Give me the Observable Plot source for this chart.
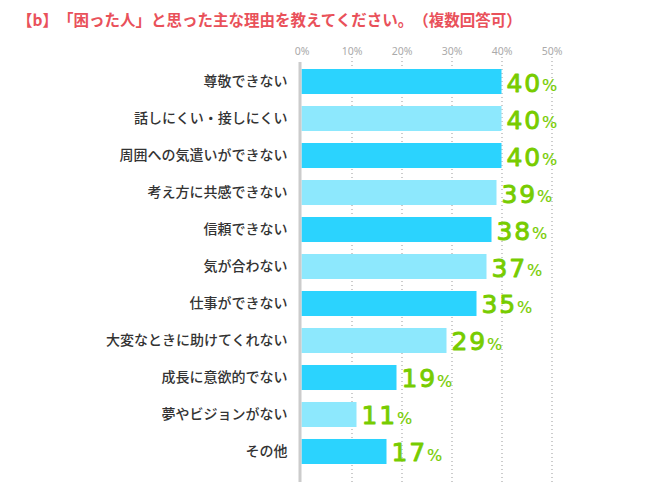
<!DOCTYPE html>
<html>
<head>
<meta charset="utf-8">
<script src="https://cdn.jsdelivr.net/npm/d3@7"></script>
<script src="https://cdn.jsdelivr.net/npm/@observablehq/plot@0.6"></script>
<style>
  html, body { margin: 0; padding: 0; background: #fff; overflow: hidden; }
  #title {
    height: 40px; line-height: 39px; padding-left: 17px; box-sizing: border-box;
    font-family: "Noto Sans CJK JP", sans-serif; font-weight: bold; font-size: 15.5px;
    color: #e9515a; white-space: nowrap; text-spacing-trim: space-all;
  }
  #chart svg { display: block; }
  #chart g[font-size="25"] text { letter-spacing: 1.8px; }
</style>
</head>
<body>
<div id="title">【b】「困った人」と思った主な理由を教えてください。（複数回答可）</div>
<div id="chart"></div>
<script>
const reasons = [
  "尊敬できない",
  "話しにくい・接しにくい",
  "周囲への気遣いができない",
  "考え方に共感できない",
  "信頼できない",
  "気が合わない",
  "仕事ができない",
  "大変なときに助けてくれない",
  "成長に意欲的でない",
  "夢やビジョンがない",
  "その他"
];
const percents = [40, 40, 40, 39, 38, 37, 35, 29, 19, 11, 17];
const tickValues = [0, 10, 20, 30, 40, 50];
const tickLabels = ["0%", "10%", "20%", "30%", "40%", "50%"];
const barColors = ["#2bd3fe", "#8de8fd"];

const data = reasons.map((r, i) => ({label: r, value: percents[i], shade: i % 2}));
const ticks = tickValues.map((v, i) => ({v, label: tickLabels[i]}));

const H = 454;
const chart = Plot.plot({
  width: 650,
  height: H,
  marginTop: 0, marginBottom: 0, marginLeft: 0, marginRight: 0,
  x: {domain: [0, 50], range: [301.5, 551.5], axis: null},
  y: {domain: reasons, range: [29, 424], padding: 0, paddingInner: 0.324, paddingOuter: 0, round: false, axis: null},
  color: {type: "ordinal", domain: [0, 1], range: barColors},
  style: {fontFamily: "'Noto Sans CJK JP', sans-serif", background: "#fff"},
  marks: [
    Plot.ruleX(ticks.filter(d => d.v > 0), {x: "v", insetTop: 17, insetBottom: H - 442, stroke: "#999", strokeDasharray: "1,3", strokeWidth: 1}),
    Plot.text(ticks, {x: "v", text: "label", frameAnchor: "top", dy: 11, lineAnchor: "middle", fill: "#aaa", fontSize: 10.5, fontFamily: "'Noto Sans', sans-serif"}),
    Plot.barX(data, {x: "value", y: "label", fill: "shade"}),
    Plot.ruleX([0], {insetTop: 22, insetBottom: H - 442, stroke: "#cccccc", strokeWidth: 3, dx: -2}),
    Plot.text(data, {x: 0, y: "label", text: "label", textAnchor: "end", dx: -14.5, fill: "#333", fontSize: 14, fontWeight: 500}),
    Plot.text(data, {x: "value", y: "label", text: d => String(d.value), textAnchor: "start", dx: 4.5, dy: 1.5, fill: "#77cc00", stroke: "#77cc00", strokeWidth: 0.9, fontSize: 25, fontFamily: "'DejaVu Sans', sans-serif"}),
    Plot.text(data, {x: "value", y: "label", text: () => "%", textAnchor: "start", dx: 40, dy: 4.1, fill: "#77cc00", stroke: "#77cc00", strokeWidth: 0.2, fontSize: 16, fontFamily: "'DejaVu Sans', sans-serif"})
  ]
});
document.getElementById("chart").append(chart);
</script>
</body>
</html>
